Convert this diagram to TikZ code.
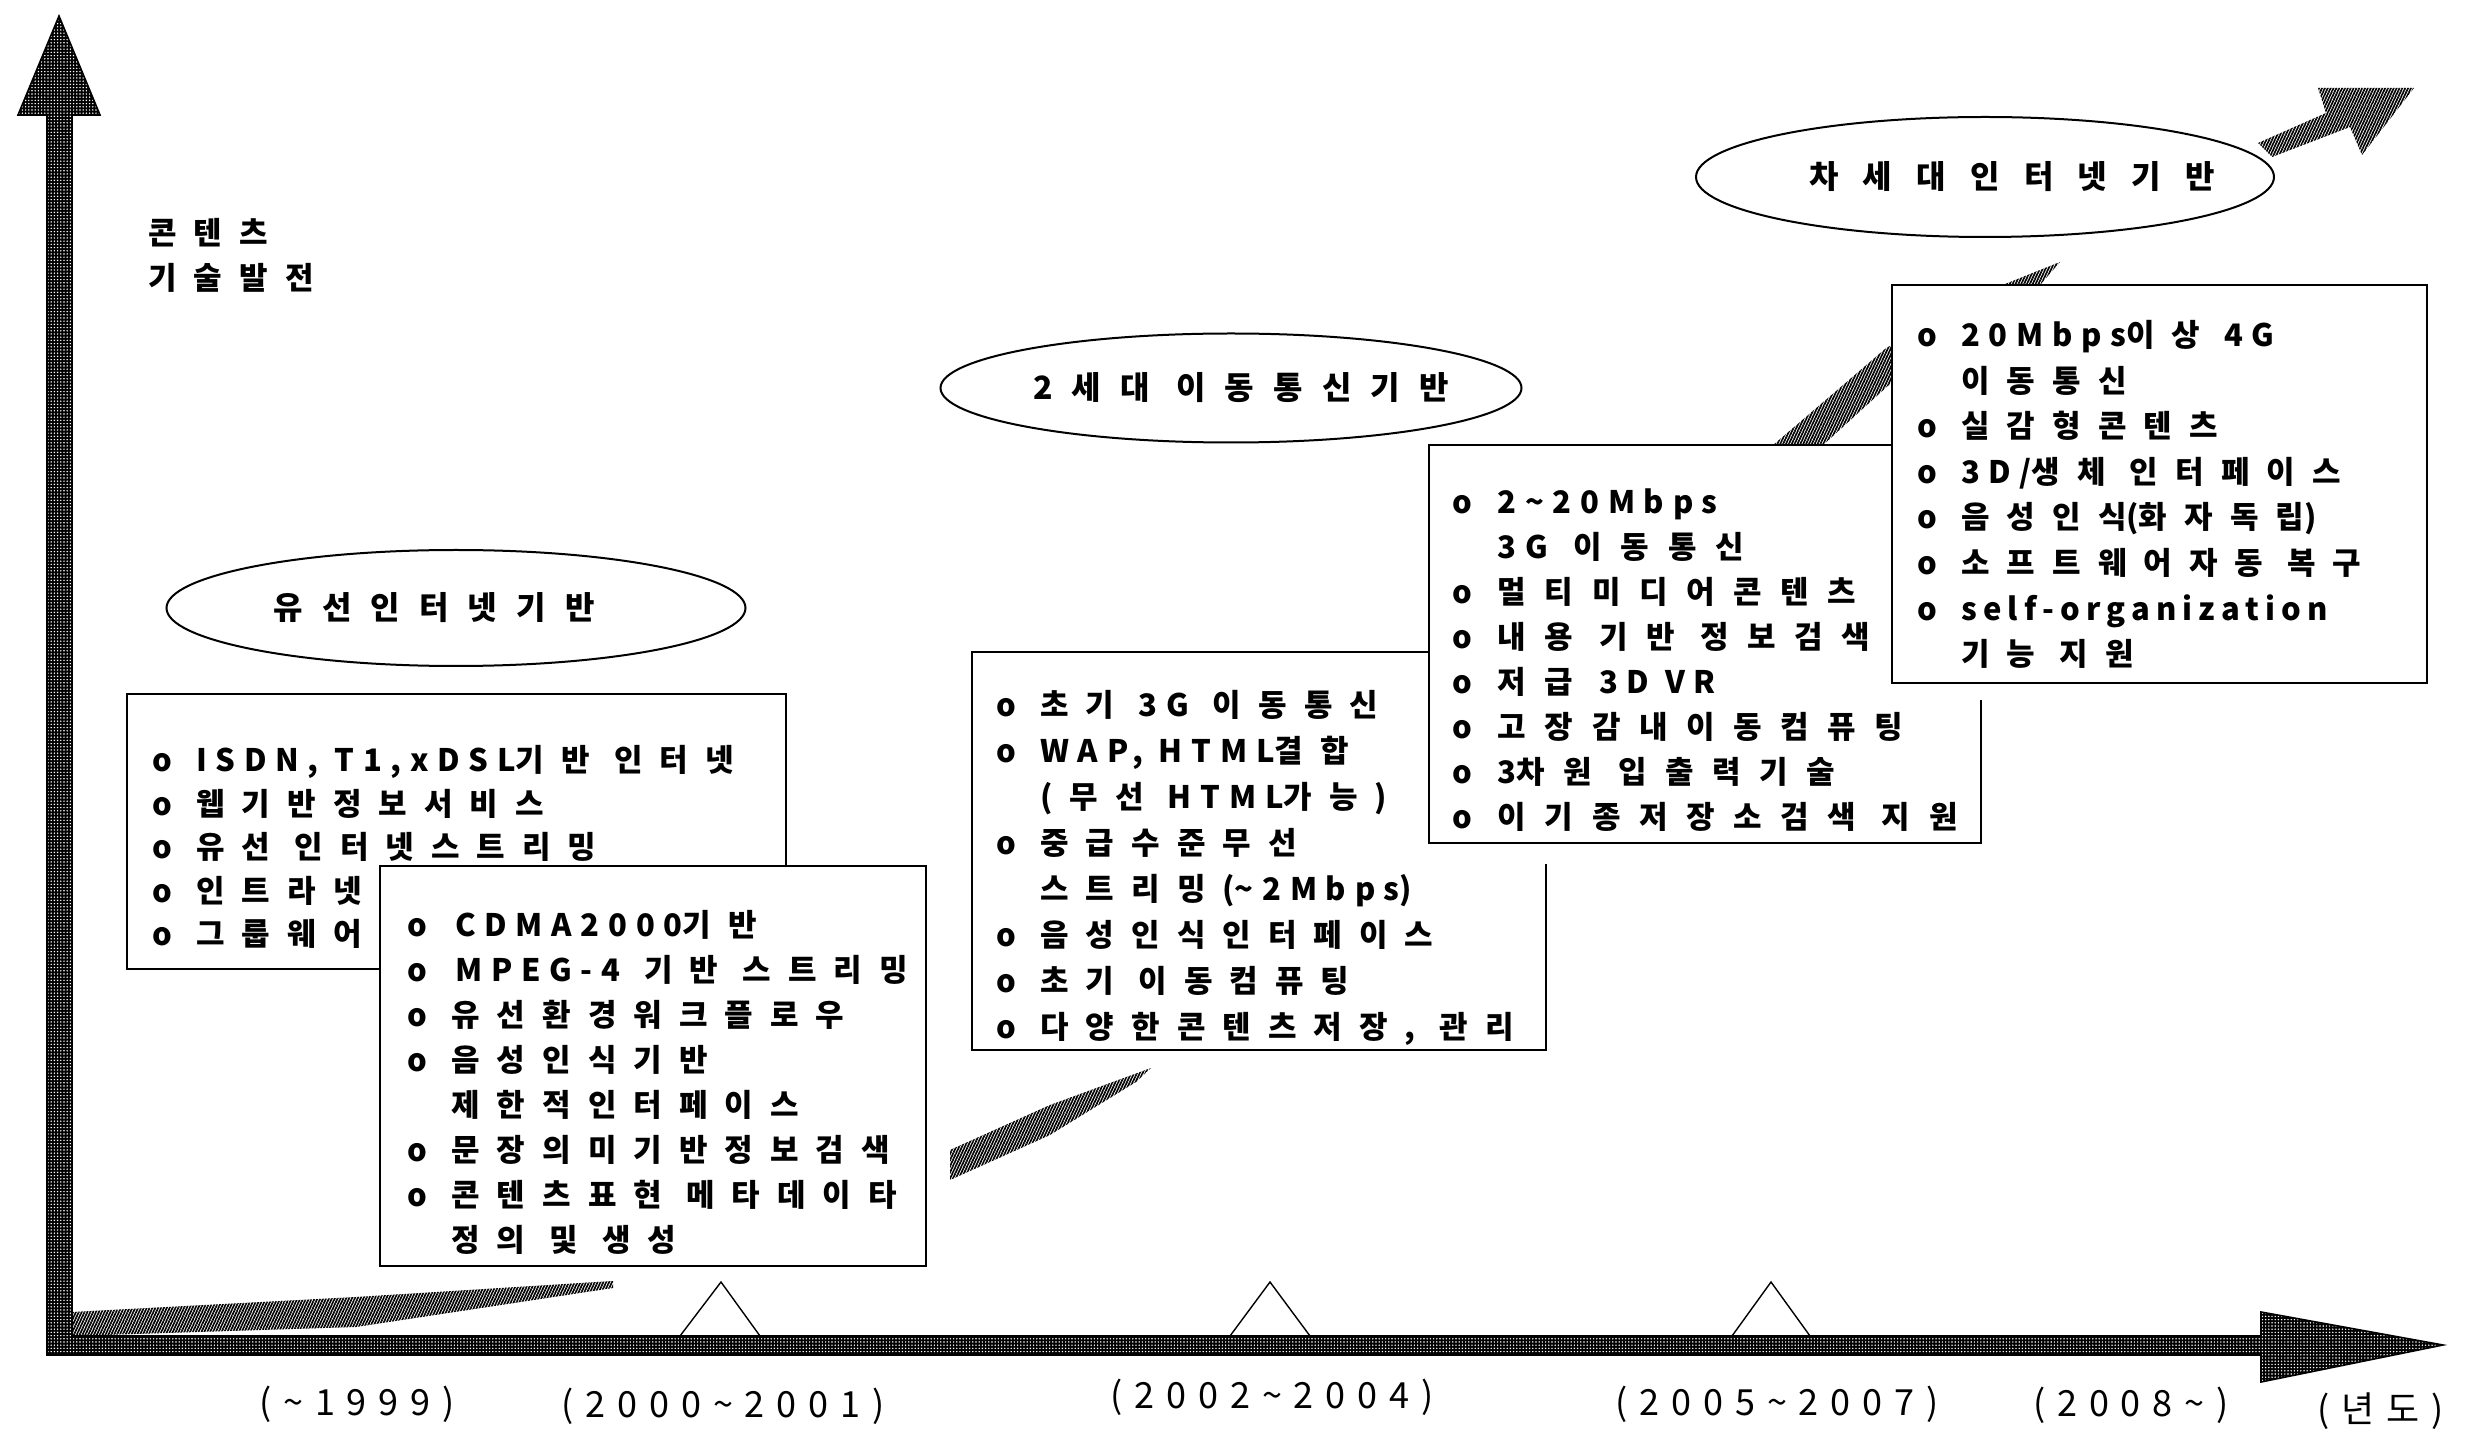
\documentclass[tikz,border=0pt]{standalone}
\usepackage{fontspec}
\setmainfont{Noto Sans CJK KR}
\newfontfamily\boxfont{Noto Sans CJK KR}[LetterSpace=55]
\newfontfamily\boxwide{Noto Sans CJK KR}[LetterSpace=60]
\newfontfamily\latfont{Noto Sans CJK KR}[LetterSpace=28]
\newfontfamily\latnarrow{Noto Sans CJK KR}[LetterSpace=20]
\newfontfamily\ellfont{Noto Sans CJK KR}[LetterSpace=60]
\newfontfamily\ellwide{Noto Sans CJK KR}[LetterSpace=76]
\newfontfamily\yearfont{Noto Sans CJK KR}[LetterSpace=33]
\newcommand\ltxt[1]{{\latfont\bfseries #1}}
\newcommand\ltxn[1]{{\latnarrow\bfseries #1}}
\newcommand\shifted[2]{\makebox[0pt]{\hspace{#1}#2}}
\usetikzlibrary{shapes.geometric,patterns.meta}
\tikzset{
  boxrect/.style={draw=black, line width=1.2pt, fill=white, anchor=north west, inner sep=0pt},
  boxtext/.style={anchor=north west, inner sep=0pt, align=left, font=\boxfont\bfseries\fontsize{15.5pt}{22.5pt}\selectfont},
  era/.style={ellipse, draw=black, line width=1pt, fill=white, inner sep=0pt, font=\ellfont\bfseries\fontsize{16pt}{20pt}\selectfont},
  yearlabel/.style={inner sep=0pt, font=\yearfont\fontsize{18pt}{20pt}\selectfont},
  axisfill/.style={preaction={fill=black}, pattern={Dots[distance=1.6pt,radius=0.4pt]}, pattern color=white, draw=black, line width=0.8pt, line join=miter},
  band/.style={pattern={Lines[angle=65,distance=1.3pt,line width=0.85pt]}, pattern color=black},
  tickmark/.style={draw=black, line width=0.7pt},
}
\begin{document}
\begin{tikzpicture}[x=0.5pt,y=-0.5pt]
\useasboundingbox[fill=white] (0,0) rectangle (2465,1438);

% axes
\path[axisfill] (47,1355) -- (47,115) -- (18,115) -- (59,16) -- (100,115) -- (72,115)
  -- (72,1336) -- (2261,1336) -- (2261,1312) -- (2443,1345) -- (2261,1382) -- (2261,1355) -- cycle;

% period marks
\draw[tickmark] (680,1336) -- (721,1282) -- (760,1336);
\draw[tickmark] (1230,1336) -- (1270,1282) -- (1310,1336);
\draw[tickmark] (1732,1336) -- (1771,1282) -- (1810,1336);

% growth band
\path[band] (72,1312) -- (356,1297) -- (613,1281) -- (613,1288) -- (356,1327) -- (72,1336) -- cycle;
\path[band] (950,1150) -- (1050,1105) -- (1151,1068) -- (1136,1082) -- (1050,1135) -- (950,1180) -- cycle;
\path[band] (1772,446) -- (1835,392) -- (1885,349) -- (1960,302) -- (2060,262) -- (2040,285)
  -- (1985,300) -- (1891,383) -- (1822,446) -- cycle;
\path[band] (2258,143) -- (2326,113) -- (2318,88) -- (2414,88) -- (2362,155) -- (2350,127) -- (2272,157) -- cycle;

% axis label
\node[boxtext] (ylab) at (148,218) {콘텐츠\\기술발전};

% eras
\node[era, minimum width=289.5pt, minimum height=58pt] (e1) at (456,608) {\shifted{-22pt}{유선인터넷기반}};
\node[era, minimum width=290.5pt, minimum height=54.5pt] (e2) at (1231,388) {\shifted{10pt}{2세대 이동통신기반}};
\node[era, minimum width=289pt, minimum height=60pt, font=\ellwide\bfseries\fontsize{16pt}{20pt}\selectfont] (e3) at (1985,177) {\shifted{27pt}{차세대인터넷기반}};

% box 1
\node[boxrect, minimum width=329.5pt, minimum height=137.5pt] (b1) at (126,693) {};
\node[boxtext, font=\boxfont\bfseries\fontsize{15.5pt}{21.75pt}\selectfont] (t1) at (152,745)
 {o \ltxt{ISDN, T1,xDSL}기반 인터넷\\o 웹기반정보서비스\\o 유선 인터넷스트리밍\\o 인트라넷\\o 그룹웨어};

% box 2
\node[boxrect, minimum width=273pt, minimum height=200pt] (b2) at (379,865) {};
\node[boxtext] (t2) at (407,910)
 {o\hspace{2pt} \ltxt{CDMA2000}기반\\o\hspace{2pt} \ltxt{MPEG-4} 기반 스트리밍\\o 유선환경워크플로우\\o 음성인식기반\\\phantom{o }제한적인터페이스\\o 문장의미기반정보검색\\o 콘텐츠표현 메타데이타\\\phantom{o }정의 및 생성};

% box 3
\node[boxrect, minimum width=287pt, minimum height=199pt] (b3) at (971,651) {};
\node[boxtext, font=\boxfont\bfseries\fontsize{15.5pt}{23pt}\selectfont] (t3) at (996,690)
 {o 초기 \ltxt{3G} 이동통신\\o \ltxt{WAP, HTML}결합\\\phantom{o }(무선 \ltxt{HTML}가능)\\o 중급수준무선\\\phantom{o }스트리밍(\ltxt{\textasciitilde 2Mbps})\\o 음성인식인터페이스\\o 초기 이동컴퓨팅\\o 다양한콘텐츠저장, 관리};

% box 3b
\fill[white] (1428,444) rectangle (1990,864);
\node[boxrect, minimum width=276pt, minimum height=199pt] (b4) at (1428,444) {};
\node[boxtext, font=\boxwide\bfseries\fontsize{15.5pt}{22.5pt}\selectfont] (t4) at (1452,488)
 {o \ltxt{2\textasciitilde 20Mbps}\\\phantom{o }\ltxt{3G} 이동통신\\o 멀티미디어콘텐츠\\o 내용 기반 정보검색\\o 저급 \ltxt{3D VR}\\o 고장감내이동컴퓨팅\\o \ltxt{3}차원 입출력기술\\o 이기종저장소검색 지원};

% box 4
\fill[white] (1891,284) rectangle (2436,700);
\node[boxrect, minimum width=267.5pt, minimum height=199pt] (b5) at (1891,284) {};
\node[boxtext, font=\boxfont\bfseries\fontsize{15.5pt}{22.8pt}\selectfont] (t5) at (1917,320)
 {o \ltxt{20Mbps}이상 \ltxt{4G}\\\phantom{o }이동통신\\o 실감형콘텐츠\\o \ltxt{3D/}생체 인터페이스\\o 음성인식\ltxt{(}화자독립\ltxt{)}\\o 소프트웨어자동 복구\\o \ltxn{self-organization}\\\phantom{o }기능 지원};

% years
\node[yearlabel] (y1) at (357,1404) {(\textasciitilde 1999)};
\node[yearlabel] (y2) at (723,1406) {(2000\textasciitilde 2001)};
\node[yearlabel] (y3) at (1272,1397) {(2002\textasciitilde 2004)};
\node[yearlabel] (y4) at (1777,1404) {(2005\textasciitilde 2007)};
\node[yearlabel] (y5) at (2131,1405) {(2008\textasciitilde )};
\node[yearlabel] (y6) at (2381,1411) {(년도)};
\end{tikzpicture}
\end{document}
